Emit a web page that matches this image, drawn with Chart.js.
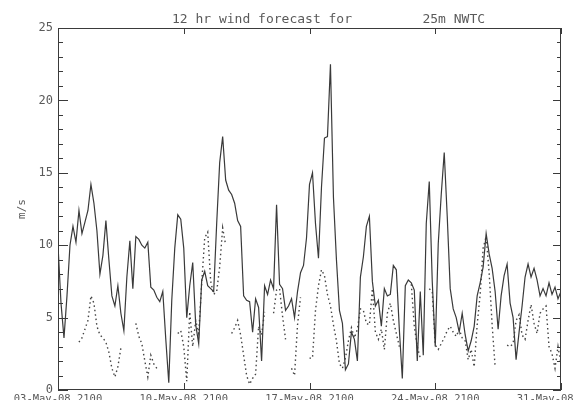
<!DOCTYPE html>
<html>
<head>
<meta charset="utf-8">
<script src="https://cdn.jsdelivr.net/npm/chart.js@4"></script>
<style>
  html, body { margin: 0; padding: 0; background: #fff; }
  #wrap { width: 580px; height: 400px; }
</style>
</head>
<body>
<div id="wrap"><canvas id="wind-chart" width="580" height="400"></canvas></div>
<script>
const TITLE = '12 hr wind forecast for         25m NWTC';
const Y_TITLE = 'm/s';
const STEP_HOURS = 4;
const X_TICK_HOURS = [0, 168, 336, 504, 672];
const X_TICK_LABELS = ['03-May-08 2100', '10-May-08 2100', '17-May-08 2100', '24-May-08 2100', '31-May-08 2100'];

// measured wind speed, one value every 4 h
const observed = [
  10, 6, 3.6, 6.5, 10.0, 11.3, 10.2, 12.4, 10.8, 11.6,
  12.4, 14.2, 12.9, 11.0, 8.0, 9.3, 11.7, 9.0, 6.5, 5.8,
  7.2, 5.3, 4.1, 7.8, 10.3, 7.0, 10.6, 10.4, 10.0, 9.8,
  10.2, 7.1, 6.9, 6.4, 6.1, 6.8, 3.5, 0.5, 6.2, 9.8,
  12.1, 11.8, 9.8, 5.0, 7.2, 8.8, 4.5, 3.2, 7.6, 8.2,
  7.2, 7.0, 6.8, 11.5, 15.7, 17.5, 14.5, 13.8, 13.5, 12.9,
  11.7, 11.3, 6.5, 6.2, 6.1, 4.0, 6.3, 5.7, 2.0, 7.2,
  6.6, 7.6, 7.0, 12.8, 7.3, 7.0, 5.5, 5.8, 6.3, 5.0,
  6.8, 8.1, 8.6, 10.5, 14.2, 15.0, 11.5, 9.1, 14.0, 17.4,
  17.5, 22.5, 13.3, 9.0, 5.5, 4.6, 1.4, 1.8, 4.0, 3.5,
  2.0, 7.8, 9.2, 11.3, 12.0, 7.5, 5.8, 6.2, 4.4, 7.0,
  6.5, 6.6, 8.6, 8.3, 4.2, 0.8, 7.2, 7.6, 7.4, 6.9,
  2.0, 6.8, 2.4, 11.5, 14.4, 7.5, 3.0, 10.1, 13.5, 16.4,
  12.0, 7.0, 5.6, 5.0, 4.0, 5.3, 3.8, 2.7, 3.4, 4.4,
  6.5, 7.4, 8.5, 10.8, 9.4, 8.4, 6.8, 4.2, 6.5, 7.9,
  8.7, 6.0, 5.0, 2.1, 4.0, 5.8, 7.8, 8.7, 7.8, 8.4,
  7.6, 6.5, 7.0, 6.5, 7.4, 6.6, 7.1, 6.3, 6.8
];

// 12 hr forecast, same times, gaps where no forecast
const forecast = [
  null, null, null, null, null, null, null, 3.3, 3.6, 4.2,
  4.8, 6.5, 6.0, 4.4, 3.8, 3.6, 3.3, 2.6, 1.5, 0.9,
  1.6, 2.9, null, null, null, null, 4.6, 3.7, 3.2, 2.0,
  0.9, 2.4, 1.8, 1.5, null, null, null, null, null, null,
  3.9, 4.1, 3.0, 0.6, 5.4, 3.0, 4.8, 3.9, 7.4, 10.5,
  10.9, 7.5, 6.6, 6.8, 8.5, 11.2, 10.0, null, 3.9, 4.3,
  4.8, 3.8, 2.4, 1.0, 0.4, 0.8, 1.1, 4.4, 3.8, 5.4,
  null, null, 5.3, 6.9, 7.0, 5.1, 3.5, null, 1.5, 1.0,
  4.5, 6.4, null, null, 2.2, 2.2, 5.5, 7.2, 8.3, 7.9,
  6.6, 5.8, 4.5, 3.4, 1.8, 1.5, 2.2, 3.4, 4.3, 3.6,
  4.2, 5.6, 5.5, 4.6, 4.5, 7.0, 4.0, 3.5, 4.2, 2.8,
  5.3, 6.0, 4.8, 3.9, 3.0, null, null, null, 7.3, 4.4,
  3.0, 2.2, null, null, 7.0, 6.8, 3.1, 2.8, 3.2, 3.6,
  4.1, 4.4, 4.0, 3.7, 4.2, 3.6, 3.4, 2.1, 2.8, 1.6,
  4.5, 6.6, 9.8, 10.6, 8.1, 4.5, 1.6, null, null, null,
  3.1, 3.0, 3.2, 4.8, 5.2, 3.8, 3.5, 4.8, 5.9, 4.6,
  3.9, 5.3, 5.6, 5.8, 3.0, 2.5, 1.5, 3.0, 1.8
];

const FONT = 'DejaVu Sans Mono';
const INK = '#3a3a3a';
const TEXT = '#5a5a5a';

function toPoints(values) {
  return values.map((y, i) => ({ x: i * STEP_HOURS, y }));
}

// IDL style frame: box with inward ticks on all four sides, plus title
const framePlugin = {
  id: 'frame',
  afterDraw(chart) {
    const { ctx, chartArea: a, scales } = chart;
    ctx.save();
    ctx.strokeStyle = INK;
    ctx.lineWidth = 1;
    ctx.strokeRect(a.left + 0.5, a.top + 0.5, a.right - a.left - 1, a.bottom - a.top - 1);

    ctx.beginPath();
    for (let v = 0; v <= 25; v++) {
      const y = Math.round(scales.y.getPixelForValue(v)) + 0.5;
      const major = v % 5 === 0;
      ctx.moveTo(a.left, y);
      ctx.lineTo(a.left + (major ? 10 : 5), y);
      ctx.moveTo(a.right, y);
      ctx.lineTo(a.right - (major ? 8 : 4), y);
    }
    X_TICK_HOURS.forEach((h) => {
      const x = Math.round(scales.x.getPixelForValue(h)) + 0.5;
      ctx.moveTo(x, a.top);
      ctx.lineTo(x, a.top + 6);
      ctx.moveTo(x, a.bottom);
      ctx.lineTo(x, a.bottom - 7);
    });
    ctx.stroke();

    ctx.fillStyle = TEXT;
    ctx.font = `13px "${FONT}"`;
    ctx.textBaseline = 'alphabetic';
    ctx.textAlign = 'left';
    ctx.fillText(TITLE, 172, 23);
    ctx.restore();
  }
};

new Chart(document.getElementById('wind-chart'), {
  type: 'scatter',
  data: {
    datasets: [
      {
        label: 'observed',
        data: toPoints(observed),
        showLine: true,
        borderColor: INK,
        borderWidth: 1.2,
        pointRadius: 0,
        tension: 0,
        spanGaps: false
      },
      {
        label: 'forecast',
        data: toPoints(forecast),
        showLine: true,
        borderColor: '#444',
        borderWidth: 1.4,
        borderDash: [1.5, 3],
        pointRadius: 0,
        tension: 0,
        spanGaps: false
      }
    ]
  },
  options: {
    responsive: false,
    animation: false,
    events: [],
    layout: { padding: { top: 28, right: 19, bottom: 0, left: 0 } },
    plugins: {
      legend: { display: false },
      tooltip: { enabled: false },
      title: { display: false }
    },
    scales: {
      x: {
        type: 'linear',
        min: 0,
        max: 672,
        grid: { display: false, drawTicks: false },
        border: { display: false },
        ticks: {
          autoSkip: false,
          maxRotation: 0,
          padding: 3,
          color: TEXT,
          font: { family: FONT, size: 10.5 },
          callback: (value) => X_TICK_LABELS[X_TICK_HOURS.indexOf(value)] ?? ''
        },
        afterBuildTicks(scale) {
          scale.ticks = X_TICK_HOURS.map((value) => ({ value }));
        },
        afterFit(scale) {
          scale.height = 10;
          scale.paddingLeft = 0;
          scale.paddingRight = 0;
        }
      },
      y: {
        min: 0,
        max: 25,
        grid: { display: false, drawTicks: false },
        border: { display: false },
        ticks: {
          stepSize: 5,
          padding: 5,
          color: TEXT,
          font: { family: FONT, size: 12 }
        },
        title: {
          display: true,
          text: Y_TITLE,
          color: TEXT,
          font: { family: FONT, size: 11 },
          padding: { top: 16, bottom: 0 }
        },
        afterFit(scale) {
          scale.width = 58;
          scale.paddingTop = 0;
          scale.paddingBottom = 0;
        }
      }
    }
  },
  plugins: [framePlugin]
});
</script>
</body>
</html>
